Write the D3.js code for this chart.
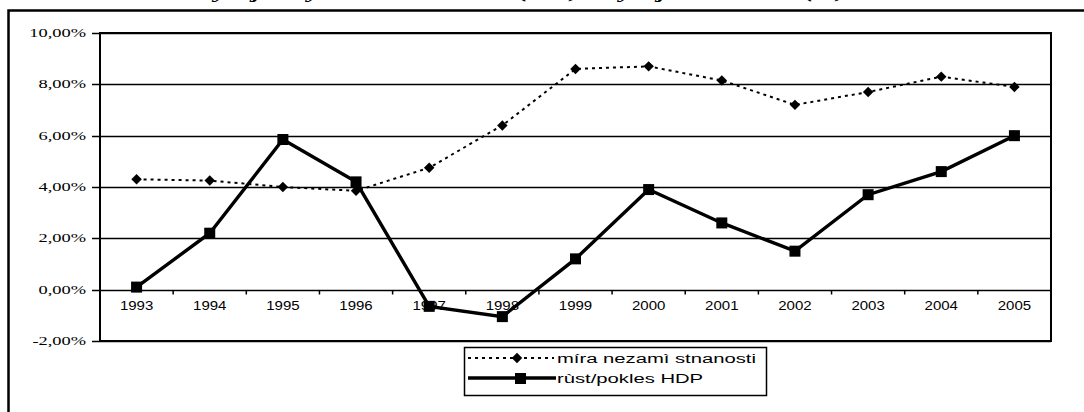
<!DOCTYPE html>
<html>
<head>
<meta charset="utf-8">
<script src="https://cdn.jsdelivr.net/npm/d3@7"></script>
<style>
  body { margin: 0; background: #fff; }
  svg { display: block; }
</style>
</head>
<body>
<script>
// chart data
let years = ["1993", "1994", "1995", "1996", "1997", "1998", "1999", "2000", "2001", "2002", "2003", "2004", "2005"];
let unemployment = [4.3, 4.25, 4.0, 3.85, 4.75, 6.4, 8.6, 8.7, 8.15, 7.2, 7.7, 8.3, 7.9];
let gdpGrowth = [0.1, 2.2, 5.85, 4.2, -0.65, -1.05, 1.2, 3.9, 2.6, 1.5, 3.7, 4.6, 6.0];
let yTicks = [-2, 0, 2, 4, 6, 8, 10];
let seriesNames = ["míra nezamì stnanosti", "rùst/pokles HDP"];
let titleText = "Vývoj míry nezamìstnanosti (v %) a vývoj rùstu HDP (%)";

let fullSVGWidth = 1084;
let fullSVGHeight = 412;

let plot = { left: 100, right: 1051, top: 33, bottom: 341 };

let svg = d3.select("body")
    .append("svg")
    .attr("width", fullSVGWidth)
    .attr("height", fullSVGHeight);

// title, cut off by the top of the picture (only descenders show)
svg.append("text")
    .attr("x", 521)
    .attr("y", -2.5)
    .attr("text-anchor", "middle")
    .attr("textLength", 650)
    .attr("lengthAdjust", "spacingAndGlyphs")
    .style("font-family", "'Liberation Serif', 'Times New Roman', serif")
    .style("font-weight", "bold")
    .style("font-style", "italic")
    .style("font-size", "17px")
    .text(titleText);

// outer chart border (runs off the right and bottom)
svg.append("rect")
    .attr("x", 8.5)
    .attr("y", 10.5)
    .attr("width", 1200)
    .attr("height", 600)
    .style("fill", "none")
    .style("stroke", "#000")
    .style("stroke-width", 2.5);

let x = d3.scaleBand()
    .domain(years)
    .range([plot.left, plot.right])
    .padding(0);

let y = d3.scaleLinear()
    .domain([-2, 10])
    .range([plot.bottom, plot.top]);

let fmt = d => d3.format(".2f")(d).replace(".", ",").replace("−", "-") + "%";

// gridlines
svg.selectAll(".grid")
    .data(yTicks)
    .enter()
    .append("line")
    .attr("class", "grid")
    .attr("x1", plot.left - 8)
    .attr("x2", plot.right)
    .attr("y1", d => Math.round(y(d)) + 0.5)
    .attr("y2", d => Math.round(y(d)) + 0.5)
    .style("stroke", "#000")
    .style("stroke-width", 1.6);

// plot frame
svg.append("rect")
    .attr("x", plot.left)
    .attr("y", plot.top)
    .attr("width", plot.right - plot.left)
    .attr("height", plot.bottom - plot.top)
    .style("fill", "none")
    .style("stroke", "#000")
    .style("stroke-width", 2);

// y labels (serif, stretched wide like the original)
svg.selectAll(".ylab")
    .data(yTicks)
    .enter()
    .append("g")
    .attr("transform", d => "translate(86," + (y(d) + 4) + ")")
    .append("text")
    .attr("text-anchor", "end")
    .attr("transform", "scale(1.6,1)")
    .style("font-family", "'Liberation Serif', 'Times New Roman', serif")
    .style("font-size", "11.5px")
    .text(fmt);

// x axis ticks on the zero line
let zeroY = Math.round(y(0)) + 0.5;
svg.selectAll(".xtick")
    .data(d3.range(1, years.length))
    .enter()
    .append("line")
    .attr("x1", i => plot.left + i * x.step())
    .attr("x2", i => plot.left + i * x.step())
    .attr("y1", zeroY)
    .attr("y2", zeroY + 4)
    .style("stroke", "#000")
    .style("stroke-width", 1.5);

svg.selectAll(".xlab")
    .data(years)
    .enter()
    .append("g")
    .attr("transform", d => "translate(" + (x(d) + x.bandwidth() / 2) + ",310)")
    .append("text")
    .attr("text-anchor", "middle")
    .attr("transform", "scale(1.25,1)")
    .style("font-family", "'Liberation Sans', Arial, sans-serif")
    .style("font-size", "12px")
    .text(d => d);

let cx = d => x(d) + x.bandwidth() / 2;

// unemployment line (dotted)
let unempLine = d3.line()
    .x((d, i) => cx(years[i]))
    .y(d => y(d));

svg.append("path")
    .datum(unemployment)
    .attr("d", unempLine)
    .style("fill", "none")
    .style("stroke", "#000")
    .style("stroke-width", 2)
    .style("stroke-dasharray", "3,4");

svg.selectAll(".diamond")
    .data(unemployment)
    .enter()
    .append("path")
    .attr("d", d3.symbol().type(d3.symbolDiamond2).size(70))
    .attr("transform", (d, i) => "translate(" + cx(years[i]) + "," + y(d) + ")")
    .style("fill", "#000");

// GDP line (solid)
let gdpLine = d3.line()
    .x((d, i) => cx(years[i]))
    .y(d => y(d));

svg.append("path")
    .datum(gdpGrowth)
    .attr("d", gdpLine)
    .style("fill", "none")
    .style("stroke", "#000")
    .style("stroke-width", 3.4)
    .style("stroke-linejoin", "miter");

svg.selectAll(".square")
    .data(gdpGrowth)
    .enter()
    .append("rect")
    .attr("x", (d, i) => cx(years[i]) - 5.5)
    .attr("y", d => y(d) - 5.5)
    .attr("width", 11)
    .attr("height", 11)
    .style("fill", "#000");

// legend
let legend = svg.append("g").attr("transform", "translate(464,347)");

legend.append("rect")
    .attr("x", 0.5)
    .attr("y", 0.5)
    .attr("width", 302)
    .attr("height", 48)
    .style("fill", "#fff")
    .style("stroke", "#000")
    .style("stroke-width", 1.5);

// row 1
legend.append("line")
    .attr("x1", 4).attr("x2", 90)
    .attr("y1", 11).attr("y2", 11)
    .style("stroke", "#000")
    .style("stroke-width", 2)
    .style("stroke-dasharray", "3,4");
legend.append("path")
    .attr("d", d3.symbol().type(d3.symbolDiamond2).size(70))
    .attr("transform", "translate(53,11)")
    .style("fill", "#000");

// row 2
legend.append("line")
    .attr("x1", 4).attr("x2", 92)
    .attr("y1", 31).attr("y2", 31)
    .style("stroke", "#000")
    .style("stroke-width", 3.4);
legend.append("rect")
    .attr("x", 51).attr("y", 26)
    .attr("width", 11).attr("height", 11)
    .style("fill", "#000");

legend.selectAll(".ltext")
    .data(seriesNames)
    .enter()
    .append("g")
    .attr("transform", (d, i) => "translate(93," + (16 + i * 20) + ")")
    .append("text")
    .attr("transform", "scale(1.5,1)")
    .style("font-family", "'Liberation Sans', Arial, sans-serif")
    .style("font-size", "13.5px")
    .text(d => d);
</script>
</body>
</html>
